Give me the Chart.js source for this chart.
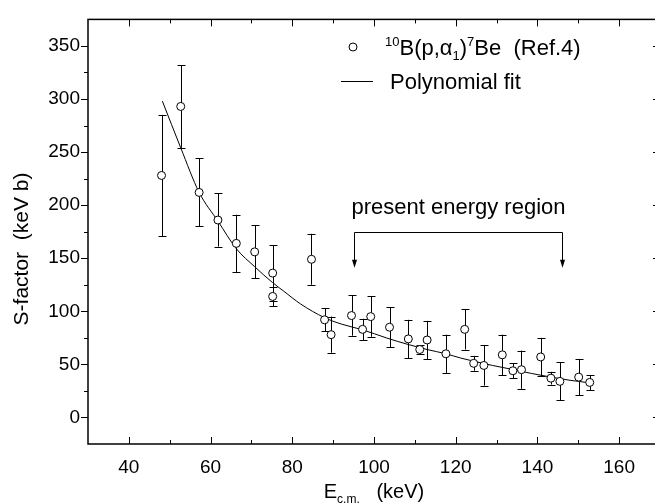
<!DOCTYPE html>
<html><head><meta charset="utf-8">
<style>
html,body{margin:0;padding:0;background:#fff;overflow:hidden;width:655px;height:504px}
#wrap{position:absolute;left:0;top:0;width:672px;height:504px}
</style>
<script src="https://cdn.jsdelivr.net/npm/chart.js@4/dist/chart.umd.min.js"></script>
</head><body><div id="wrap"><canvas id="c" width="672" height="504"></canvas></div>
<script>
// ---- data ----
const energy  = [48.0, 52.7, 57.2, 61.8, 66.3, 70.8, 75.2, 75.2, 84.7, 87.9, 89.5, 94.5, 97.2, 99.2, 103.8, 108.4, 111.2, 113.0, 117.6, 122.2, 124.4, 126.9, 131.4, 134.0, 136.1, 140.8, 143.3, 145.5, 150.1, 152.8];
const sFactor = [228, 293, 212, 186, 164, 156, 136, 114, 149, 92, 78, 96, 83, 95, 85, 74, 64, 73, 60, 83, 51, 49, 59, 44, 45, 57, 37, 34, 38, 33];
const sError  = [57, 39, 32, 25, 27, 25, 26, 9, 24, 11, 17, 19, 10, 19, 19, 18, 4, 18, 18, 19, 7, 19, 19, 7, 18, 18, 6, 18, 17, 7];
const fitEnergy = [48.2, 52.7, 57.2, 61.8, 66.3, 70.8, 75.2, 77.9, 82, 87.9, 92, 97.2, 103, 108.4, 113, 117.6, 121.2, 124.4, 129, 134.2, 138.5, 143.3, 148, 153];
const fitS      = [298, 254, 212, 185, 159, 142, 127, 119, 107, 94, 88, 82.6, 75, 68.7, 64, 60, 56, 53, 49, 45, 41.5, 38, 35, 32.5];
const xTicks = [40, 60, 80, 100, 120, 140, 160];
const yTicks = [0, 50, 100, 150, 200, 250, 300, 350];
const xMinorStep = 10, yMinorStep = 25;
const regionFrom = 95, regionTo = 146, regionTop = 175, regionTip = 141;

const FONT = '"Liberation Sans", Arial, sans-serif';

const decorations = {
  id: 'decorations',
  beforeDatasetsDraw(chart) {
    const ctx = chart.ctx, xs = chart.scales.x, ys = chart.scales.y;
    ctx.save();
    ctx.strokeStyle = '#000';
    ctx.lineWidth = 1;
    energy.forEach((e, i) => {
      const px = Math.round(xs.getPixelForValue(e)) + 0.5;
      const yt = ys.getPixelForValue(sFactor[i] + sError[i]);
      const yb = ys.getPixelForValue(sFactor[i] - sError[i]);
      ctx.beginPath();
      ctx.moveTo(px, yt); ctx.lineTo(px, yb);
      ctx.moveTo(px - 4, Math.round(yt) + 0.5); ctx.lineTo(px + 4, Math.round(yt) + 0.5);
      ctx.moveTo(px - 4, Math.round(yb) + 0.5); ctx.lineTo(px + 4, Math.round(yb) + 0.5);
      ctx.stroke();
    });
    ctx.restore();
  },
  afterDraw(chart) {
    const ctx = chart.ctx, xs = chart.scales.x, ys = chart.scales.y;
    const a = chart.chartArea;
    ctx.save();
    ctx.strokeStyle = '#000';
    ctx.fillStyle = '#000';
    // frame
    ctx.lineWidth = 1.5;
    ctx.strokeRect(a.left, a.top, a.right - a.left, a.bottom - a.top);
    // ticks
    ctx.lineWidth = 1;
    ctx.beginPath();
    for (let v = xs.min + xMinorStep; v < xs.max; v += xMinorStep) {
      const px = Math.round(xs.getPixelForValue(v)) + 0.5;
      const len = xTicks.includes(v) ? 7 : 4;
      ctx.moveTo(px, a.bottom); ctx.lineTo(px, a.bottom - len);
      ctx.moveTo(px, a.top); ctx.lineTo(px, a.top + len);
    }
    for (let v = ys.min + yMinorStep; v < ys.max; v += yMinorStep) {
      const py = Math.round(ys.getPixelForValue(v)) + 0.5;
      const len = yTicks.includes(v) ? 7 : 4;
      ctx.moveTo(a.left, py); ctx.lineTo(a.left - len, py);
      ctx.moveTo(a.right, py); ctx.lineTo(a.right - len, py);
    }
    ctx.stroke();

    // y title
    ctx.save();
    ctx.translate(22, 249);
    ctx.rotate(-Math.PI / 2);
    ctx.font = '21px ' + FONT;
    ctx.textAlign = 'center';
    ctx.textBaseline = 'middle';
    ctx.fillText('S-factor  (keV b)', 0, 0);
    ctx.restore();

    // x title with subscript
    ctx.textBaseline = 'alphabetic';
    ctx.textAlign = 'left';
    const mainF = '20px ' + FONT, subF = '12px ' + FONT;
    ctx.font = mainF; const wE = ctx.measureText('E').width;
    ctx.font = subF; const wS = ctx.measureText('c.m.').width;
    ctx.font = mainF; const wK = ctx.measureText('   (keV)').width;
    let cx = (a.left + a.right) / 2 - (wE + wS + wK) / 2;
    const by = 498;
    ctx.font = mainF; ctx.fillText('E', cx, by); cx += wE;
    ctx.font = subF; ctx.fillText('c.m.', cx, by + 5); cx += wS;
    ctx.font = mainF; ctx.fillText('   (keV)', cx, by);

    // legend
    ctx.beginPath();
    ctx.arc(353, 47, 4, 0, Math.PI * 2);
    ctx.fillStyle = '#fff'; ctx.fill();
    ctx.lineWidth = 1; ctx.strokeStyle = '#000'; ctx.stroke();
    ctx.fillStyle = '#000';
    const lf = '22px ' + FONT, sf = '13px ' + FONT;
    const lb = 55;
    let lx = 385;
    const seg = (t, f, dy) => { ctx.font = f; ctx.fillText(t, lx, lb + dy); lx += ctx.measureText(t).width; };
    seg('10', sf, -9);
    seg('B(p,\u03B1', lf, 0);
    seg('1', sf, 5);
    seg(')', lf, 0);
    seg('7', sf, -9);
    seg('Be  (Ref.4)', lf, 0);
    ctx.beginPath();
    ctx.moveTo(341, 81.5); ctx.lineTo(373, 81.5); ctx.stroke();
    ctx.font = lf;
    ctx.fillText('Polynomial fit', 390, 89);

    // present energy region annotation
    const x1 = Math.round(xs.getPixelForValue(regionFrom)) + 0.5;
    const x2 = Math.round(xs.getPixelForValue(regionTo)) + 0.5;
    const yT = Math.round(ys.getPixelForValue(regionTop)) + 0.5;
    const yA = ys.getPixelForValue(regionTip);
    ctx.beginPath();
    ctx.moveTo(x1, yA - 6); ctx.lineTo(x1, yT); ctx.lineTo(x2, yT); ctx.lineTo(x2, yA - 6);
    ctx.stroke();
    [x1, x2].forEach(x => {
      ctx.beginPath();
      ctx.moveTo(x - 2.5, yA - 8); ctx.lineTo(x + 2.5, yA - 8); ctx.lineTo(x, yA); ctx.closePath();
      ctx.fill();
    });
    ctx.font = '22px ' + FONT;
    ctx.textAlign = 'center';
    ctx.textBaseline = 'middle';
    ctx.fillText('present energy region', (x1 + x2) / 2, 208);
    ctx.restore();
  }
};

new Chart(document.getElementById('c'), {
  type: 'scatter',
  data: {
    datasets: [
      {
        label: '10B(p,a1)7Be (Ref.4)',
        data: energy.map((e, i) => ({ x: e, y: sFactor[i] })),
        pointRadius: 4,
        pointBackgroundColor: '#fff',
        pointBorderColor: '#000',
        pointBorderWidth: 1,
        showLine: false,
        order: 0
      },
      {
        type: 'line',
        label: 'Polynomial fit',
        data: fitEnergy.map((e, i) => ({ x: e, y: fitS[i] })),
        borderColor: '#000',
        borderWidth: 1,
        pointRadius: 0,
        fill: false,
        cubicInterpolationMode: 'monotone',
        order: 1
      }
    ]
  },
  options: {
    responsive: false,
    animation: false,
    devicePixelRatio: 1,
    layout: { padding: { top: 13, right: 12, left: 0, bottom: 0 } },
    plugins: { legend: { display: false }, tooltip: { enabled: false } },
    scales: {
      x: {
        type: 'linear', min: 30, max: 170,
        grid: { display: false, drawTicks: false },
        border: { display: false },
        afterBuildTicks: s => { s.ticks = xTicks.map(v => ({ value: v })); },
        afterFit: s => { s.height = 60; },
        ticks: { color: '#000', padding: 12, font: { family: FONT, size: 19 } }
      },
      y: {
        type: 'linear', min: -25, max: 375,
        grid: { display: false, drawTicks: false },
        border: { display: false },
        afterBuildTicks: s => { s.ticks = yTicks.map(v => ({ value: v })); },
        afterFit: s => { s.width = 88; },
        ticks: { color: '#000', padding: 8, font: { family: FONT, size: 19 } }
      }
    }
  },
  plugins: [decorations]
});
</script>
</body></html>
